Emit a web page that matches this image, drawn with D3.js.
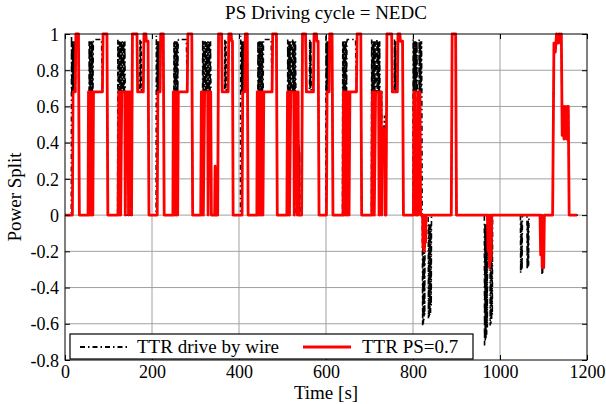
<!DOCTYPE html>
<html>
  <head>
    <meta charset="utf-8" />
    <title>PS Driving cycle = NEDC</title>
    <style>
      body {
        margin: 0;
        background: #fff;
      }
      svg text {
        font-family: "Liberation Serif", Tinos, "DejaVu Serif", "Times New Roman", serif;
        fill: #000;
      }
      .grid line {
        stroke: #a0a0a0;
        stroke-width: 1;
      }
    </style>
    <script src="https://d3js.org/d3.v7.min.js" charset="utf-8"></script>
  </head>
  <body>
    <script>
      // axis ticks
      const xTicks = [0, 200, 400, 600, 800, 1000, 1200];
      const yTicks = [1, 0.8, 0.6, 0.4, 0.2, 0, -0.2, -0.4, -0.6, -0.8];
      const yTickLabels = ["1", "0.8", "0.6", "0.4", "0.2", "0", "-0.2", "-0.4", "-0.6", "-0.8"];

      const seriesNames = ["TTR drive by wire", "TTR PS=0.7"];

      // TTR drive by wire: [time s, power split]
      const dbwSplit = [
        [0,0],[14.5,0],[15,0.99],[15.7,0.68],[16.4,0.96],[17.1,0.68],[17.8,0.96],[18.5,0.68],[19.2,0.96],[19.9,0.68],[20.6,0.96],[21.3,0.68],[22,0.96],[22.7,0.68],[23.4,0.96],[24,0.68],[25,1],[31,1],[33,0],
        [55,0],[55.5,0.96],[56.3,0.68],[57.1,0.96],[57.9,0.68],[58.7,0.96],[59.5,0.68],[60.3,0.96],[61.1,0.68],[61.9,0.96],[62.7,0.68],[63.5,0.96],[64.3,0.68],[65.1,0.96],[66,0.97],[84,0.97],[86,0.68],[87.5,1],[96.5,1],[98.5,0],
        [121,0],[121.5,0.97],[122.5,0.68],[123.5,0.96],[124.5,0.68],[125.5,0.96],[126.5,0.68],[127.5,0.96],[128.5,0.68],[129.5,0.96],[130.5,0.68],[131.5,0.96],[132.5,0.68],[133.5,0.96],[134.5,0.68],[135.5,0.96],[136.5,0.68],[137.5,0.96],[138.5,0.68],[139,0],
        [149,0],[149.5,0.2],[150,0],[150.5,0.17],[151,0],[154,0],[155,1],[165.5,1],[167,0.68],[172,0.68],[172.5,0.97],[173.2,0.7],[173.9,0.96],[174.6,0.7],[175.3,0.96],[176,0.68],[180,0.68],[181.5,1],[186,1],[187,0.96],[191,0.96],[193,0],
        [209.5,0],[210,0.99],[210.7,0.68],[211.4,0.96],[212.1,0.68],[212.8,0.96],[213.5,0.68],[214.2,0.96],[214.9,0.68],[215.6,0.96],[216.3,0.68],[217,0.96],[217.7,0.68],[218.4,0.96],[219,0.68],[220,1],[226,1],[228,0],
        [250,0],[250.5,0.96],[251.3,0.68],[252.1,0.96],[252.9,0.68],[253.7,0.96],[254.5,0.68],[255.3,0.96],[256.1,0.68],[256.9,0.96],[257.7,0.68],[258.5,0.96],[259.3,0.68],[260.1,0.96],[261,0.97],[279,0.97],[281,0.68],[282.5,1],[291.5,1],[293.5,0],
        [316,0],[316.5,0.97],[317.5,0.68],[318.5,0.96],[319.5,0.68],[320.5,0.96],[321.5,0.68],[322.5,0.96],[323.5,0.68],[324.5,0.96],[325.5,0.68],[326.5,0.96],[327.5,0.68],[328.5,0.96],[329.5,0.68],[330.5,0.96],[331.5,0.68],[332.5,0.96],[333.5,0.68],[334.5,0.96],[335.5,0.68],[336,0],
        [344,0],[345,0.27],[346,0],[351,0],[353,1],[360,1],[361.5,0.68],[367,0.68],[367.5,0.97],[368.2,0.7],[368.9,0.96],[369.6,0.7],[370.3,0.96],[371,0.68],[375,0.68],[376.5,1],[382,1],[383,0.96],[385,0.96],[386.5,0],
        [403.5,0],[404,0.99],[404.7,0.68],[405.4,0.96],[406.1,0.68],[406.8,0.96],[407.5,0.68],[408.2,0.96],[408.9,0.68],[409.6,0.96],[410.3,0.68],[411,0.96],[411.7,0.68],[412.4,0.96],[413,0.68],[414.5,1],[419,1],[421,0],
        [443,0],[443.5,0.96],[444.3,0.68],[445.1,0.96],[445.9,0.68],[446.7,0.96],[447.5,0.68],[448.3,0.96],[449.1,0.68],[449.9,0.96],[450.7,0.68],[451.5,0.96],[452.3,0.68],[453.1,0.96],[453.9,0.68],[454.7,0.96],[455.5,0.68],[456.3,0.97],[474,0.97],[476,0.68],[477.5,1],[486,1],[488,0],
        [511.5,0],[512,0.97],[512.8,0.68],[513.6,0.96],[514.4,0.68],[515.2,0.96],[516,0.68],[516.8,0.96],[517.6,0.68],[518.4,0.96],[519.2,0.68],[520,0.96],[520.8,0.68],[523,0.68],[523.5,0.97],[524.3,0.68],[525.1,0.96],[525.9,0.68],[526.7,0.96],[527.5,0.68],[528.3,0.96],[529.1,0.68],[529.9,0.96],[530.7,0.68],[531,0],
        [537,0],[537.5,0.41],[538,0.02],[538.5,0.38],[539,0.02],[539.5,0.35],[540,0],[544,0],[546,1],[553,1],[555,0.68],[562,0.68],[562.5,0.97],[563.2,0.7],[563.9,0.96],[564.6,0.7],[565.3,0.96],[566,0.68],[571,0.68],[572.5,1],[578,1],[579,0.96],[582,0.96],[584,0],
        [599.5,0],[600,0.99],[600.7,0.68],[601.4,0.96],[602.1,0.68],[602.8,0.96],[603.5,0.68],[604.2,0.96],[604.9,0.68],[605.6,0.96],[606.3,0.68],[607,0.96],[607.6,0.68],[608.5,1],[614,1],[616,0],
        [638,0],[638.5,0.96],[639.3,0.68],[640.1,0.96],[640.9,0.68],[641.7,0.96],[642.5,0.68],[643.3,0.96],[644.1,0.68],[644.9,0.96],[645.7,0.68],[646.5,0.96],[647.3,0.68],[648.1,0.96],[649,0.97],[668,0.97],[670,0.68],[671.5,1],[680,1],[682,0],
        [704.5,0],[705,0.97],[705.8,0.68],[706.6,0.96],[707.4,0.68],[708.2,0.96],[709,0.68],[709.8,0.96],[710.6,0.68],[711.4,0.96],[712.2,0.68],[713,0.96],[713.5,0.68],[716.5,0.68],[717,0.97],[717.8,0.68],[718.6,0.96],[719.4,0.68],[720.2,0.96],[721,0.68],[721.8,0.96],[722.6,0.68],[723.4,0.96],[724,0.68],[728,0.68],[729,0],
        [730,0.48],[733,0.48],[734.5,0.55],[735.3,0.48],[736,0.55],[736.8,0],[738,0],[740,1],[751,1],[752.5,0.68],[757,0.68],[757.5,0.97],[758.2,0.7],[758.9,0.96],[759.6,0.7],[760.3,0.96],[761,0.68],[764,0.68],[765.5,1],[770,1],[771,0.96],[776,0.96],[778,0],
        [800,0],[800.5,0.97],[801.2,0.68],[801.9,0.96],[802.6,0.68],[803.3,0.96],[804,0.68],[804.7,0.96],[805.4,0.68],[806.1,0.96],[806.8,0.68],[807.5,0.96],[808.2,0.68],[809,0.96],[809.8,0.68],[810.5,0],
        [813.5,0],[814,0.97],[814.7,0.68],[815.4,0.96],[816.1,0.68],[816.8,0.96],[817.5,0.68],[818.2,0.96],[818.9,0.68],[819.6,0.96],[820.3,0.68],[821,0],
        [821.5,-0.05],[822.2,-0.61],[823,-0.05],[823.8,-0.6],[824.6,-0.05],[825.4,-0.58],[826.2,-0.05],[827,-0.55],[827.8,0],
        [835,0],[835.5,-0.57],[836.3,-0.05],[837.1,-0.56],[837.9,-0.05],[838.7,-0.55],[839.5,-0.05],[840.3,-0.54],[841.1,-0.05],[841.9,-0.5],[842.5,0],
        [888,0],[890,1],[898,1],[900,0],
        [964,0],[964.5,-0.72],[965.3,-0.05],[966.1,-0.7],[966.9,-0.05],[967.7,-0.68],[968.5,-0.05],[969.3,-0.66],[970.1,-0.05],[970.9,-0.62],[971.5,0],
        [977,0],[977.5,-0.61],[978.3,-0.05],[979.1,-0.6],[979.9,-0.05],[980.7,-0.58],[981.5,-0.05],[982.3,-0.55],[983,0],
        [1047,0],[1047.5,-0.32],[1048.3,-0.03],[1049.1,-0.31],[1049.9,-0.03],[1050.7,-0.3],[1051.5,0],
        [1062,0],[1062.5,-0.3],[1063.3,-0.03],[1064.1,-0.29],[1064.9,-0.03],[1065.7,-0.28],[1066.5,0],
        [1096,0],[1096.5,-0.33],[1097.3,-0.03],[1098.1,-0.32],[1098.9,-0.03],[1099.7,-0.3],[1100.5,0],
        [1121,0],[1124,0.95],[1127,0.9],[1130,1],[1133,0.95],[1136,1],[1139,0.95],[1141,1],[1143,0.44],[1145,0.6],[1147,0.42],[1149,0.6],[1151,0.45],[1153,0.42],[1155,0.6],[1157,0.6],[1159,0],[1180,0]
      ];

      // TTR PS=0.7: [time s, power split]
      const psSplit = [
        [0,0],[17,0],[18.5,0.68],[23.5,0.68],[25,1],[31,1],[33,0],
        [53,0],[54,0.68],[55,0],[57,0.68],[58,0],[60,0.68],[61,0],[63,0.68],[64,0],[65.5,0.68],
        [86,0.68],[87.5,1],[96.5,1],[98.5,0],
        [122,0],[123.5,0.68],[124.5,0],[127,0.68],[128,0],[130.5,0.68],[137.5,0.68],[138.5,0],[140.5,0.68],[145,0.68],[146,0],[148,0.68],[152,0.68],[153,0],[155,1],[165.5,1],[167,0.68],[180,0.68],[181.5,1],[186,1],[187,0.96],[191,0.96],[193,0],
        [212,0],[213.5,0.68],[218.5,0.68],[220,1],[226,1],[228,0],
        [248,0],[249,0.68],[250,0],[252,0.68],[253,0],[255,0.68],[256,0],[258,0.68],[259,0],[260.5,0.68],
        [281,0.68],[282.5,1],[291.5,1],[293.5,0],
        [312,0],[313.5,0.68],[315,0],[317,0.68],[318,0],[321,0.68],[328,0.68],[329,0],[331,0.68],[335,0.68],[336.5,0],[344,0],[345,0.27],[346,0],[351,0],[353,1],[360,1],[361.5,0.68],[375,0.68],[376.5,1],[382,1],[383,0.96],[385,0.96],[386.5,0],
        [407,0],[408.5,0.68],[413,0.68],[414.5,1],[419,1],[421,0],
        [441,0],[442,0.68],[443,0],[445,0.68],[446,0],[448,0.68],[449,0],[451,0.68],[452,0],[454,0.68],[455,0],[457,0.68],
        [476,0.68],[477.5,1],[486,1],[488,0],
        [510,0],[511.5,0.68],[512.5,0],[515,0.68],[516,0],[519,0.68],[526,0.68],[527,0],[530,0.68],[533,0.68],[534,0],[536,0.68],[537,0],[544,0],[546,1],[553,1],[555,0.68],[571,0.68],[572.5,1],[578,1],[579,0.96],[582,0.96],[584,0],
        [601,0],[602.5,0.68],[607,0.68],[608.5,1],[614,1],[616,0],
        [639,0],[640,0.68],[641,0],[643,0.68],[644,0],[646,0.68],[647,0],[649,0.68],[650,0],[652,0.68],[653,0],[655,0.68],
        [670,0.68],[671.5,1],[680,1],[682,0],
        [705,0],[706.5,0.68],[707.5,0],[710,0.68],[711,0],[714,0.68],[721,0.68],[722,0],[725,0.68],[727,0.68],[728,0],[729.5,0.48],[735,0.48],[736,0],[738,0],[740,1],[751,1],[752.5,0.68],[764,0.68],[765.5,1],[770,1],[771,0.96],[776,0.96],[778,0],
        [801,0],[802,0.68],[805,0.68],[806.5,0],[811,0],[812,0.68],[816,0.68],[817.5,0],
        [822,0],[823,-0.18],[824,0],[826,-0.2],[827,0],[829,-0.15],[830,0],
        [888,0],[890,1],[898,1],[900,0],
        [971,0],[972.5,-0.2],[974,0],[976,-0.29],[978,0],[979.5,-0.25],[981,0],
        [1092,0],[1093.5,-0.22],[1095,0],[1097,-0.29],[1099,-0.25],[1100.5,-0.29],[1102,0],
        [1121,0],[1124,0.95],[1127,0.9],[1130,1],[1133,0.95],[1136,1],[1139,0.95],[1141,1],[1143,0.44],[1145,0.6],[1147,0.42],[1149,0.6],[1151,0.45],[1153,0.42],[1155,0.6],[1157,0.6],[1159,0],[1177,0]
      ];

      const W = 606,
        H = 404;
      const margin = { top: 34, right: 19, bottom: 44, left: 65 };
      const width = W - margin.left - margin.right,
        height = H - margin.top - margin.bottom;

      const x = d3.scaleLinear().domain([0, 1200]).range([0, width]);
      const y = d3.scaleLinear().domain([-0.8, 1]).range([height, 0]);

      const svg = d3
        .select("body")
        .append("svg")
        .attr("width", W)
        .attr("height", H);

      const g = svg
        .append("g")
        .attr("transform", "translate(" + margin.left + "," + margin.top + ")");

      g.append("clipPath")
        .attr("id", "plot-clip")
        .append("rect")
        .attr("y", -2)
        .attr("width", width)
        .attr("height", height + 2);

      // grid
      const grid = g.append("g").attr("class", "grid");
      grid
        .selectAll(".gx")
        .data(xTicks.slice(1, -1))
        .join("line")
        .attr("x1", (d) => x(d))
        .attr("x2", (d) => x(d))
        .attr("y1", 0)
        .attr("y2", height);
      grid
        .selectAll(".gy")
        .data(yTicks.slice(1, -1))
        .join("line")
        .attr("x1", 0)
        .attr("x2", width)
        .attr("y1", (d) => y(d))
        .attr("y2", (d) => y(d));

      const line = d3
        .line()
        .x((d) => x(d[0]))
        .y((d) => y(d[1]));

      const plot = g.append("g").attr("clip-path", "url(#plot-clip)");

      plot
        .append("path")
        .datum(dbwSplit)
        .attr("fill", "none")
        .attr("stroke", "#000")
        .attr("stroke-width", 1.6)
        .attr("stroke-dasharray", "5,3,1.5,3")
        .attr("d", line);

      plot
        .append("path")
        .datum(psSplit)
        .attr("fill", "none")
        .attr("stroke", "#ff0000")
        .attr("stroke-width", 2.8)
        .attr("stroke-linejoin", "round")
        .attr("d", line);

      // axes (matlab style: ticks inward, box)
      const tickFont = "18px";
      const labelFont = "19px";
      const xAxis = g
        .append("g")
        .attr("transform", "translate(0," + height + ")")
        .call(
          d3.axisBottom(x).tickValues(xTicks).tickSizeInner(-5).tickSizeOuter(0).tickPadding(5).tickFormat(d3.format("d"))
        );
      const yAxis = g
        .append("g")
        .call(
          d3
            .axisLeft(y)
            .tickValues(yTicks)
            .tickSizeInner(-5)
            .tickSizeOuter(0)
            .tickPadding(6)
            .tickFormat((d, i) => yTickLabels[i])
        );
      g.append("g").call(d3.axisTop(x).tickValues(xTicks).tickSizeInner(-5).tickSizeOuter(0).tickFormat(""));
      g.append("g")
        .attr("transform", "translate(" + width + ",0)")
        .call(d3.axisRight(y).tickValues(yTicks).tickSizeInner(-5).tickSizeOuter(0).tickFormat(""));

      g.selectAll(".domain").remove();
      g.selectAll(".tick line").attr("stroke", "#000");
      g.selectAll("g").attr("font-family", null);
      xAxis.selectAll("text").style("font-size", tickFont);
      yAxis.selectAll("text").style("font-size", tickFont).attr("dy", "0.34em");

      g.append("rect")
        .attr("width", width)
        .attr("height", height)
        .attr("fill", "none")
        .attr("stroke", "#000")
        .attr("stroke-width", 1);

      // titles
      svg
        .append("text")
        .attr("x", margin.left + width / 2)
        .attr("y", 19)
        .attr("text-anchor", "middle")
        .style("font-size", labelFont)
        .text("PS Driving cycle = NEDC");

      svg
        .append("text")
        .attr("x", margin.left + width / 2)
        .attr("y", 399)
        .attr("text-anchor", "middle")
        .style("font-size", labelFont)
        .text("Time [s]");

      svg
        .append("text")
        .attr("transform", "translate(21," + (margin.top + height / 2) + ")rotate(-90)")
        .attr("text-anchor", "middle")
        .style("font-size", labelFont)
        .text("Power Split");

      // legend
      const legend = g.append("g").attr("transform", "translate(5," + (height - 26) + ")");
      legend
        .append("rect")
        .attr("width", 403)
        .attr("height", 25)
        .attr("fill", "#fff")
        .attr("stroke", "#000")
        .attr("stroke-width", 1.2);

      const legendItems = [
        { name: seriesNames[0], color: "#000", dash: "5,3,1.5,3", w: 1.8, x0: 10, tx: 67 },
        { name: seriesNames[1], color: "#ff0000", dash: null, w: 2.8, x0: 233, tx: 292 }
      ];
      const li = legend
        .selectAll(".li")
        .data(legendItems)
        .join("g")
        .attr("class", "li");
      li.append("line")
        .attr("x1", (d) => d.x0)
        .attr("x2", (d) => d.x0 + 48)
        .attr("y1", 13)
        .attr("y2", 13)
        .attr("stroke", (d) => d.color)
        .attr("stroke-width", (d) => d.w)
        .attr("stroke-dasharray", (d) => d.dash);
      li.append("text")
        .attr("x", (d) => d.tx)
        .attr("y", 19)
        .style("font-size", labelFont)
        .text((d) => d.name);
    </script>
  </body>
</html>
